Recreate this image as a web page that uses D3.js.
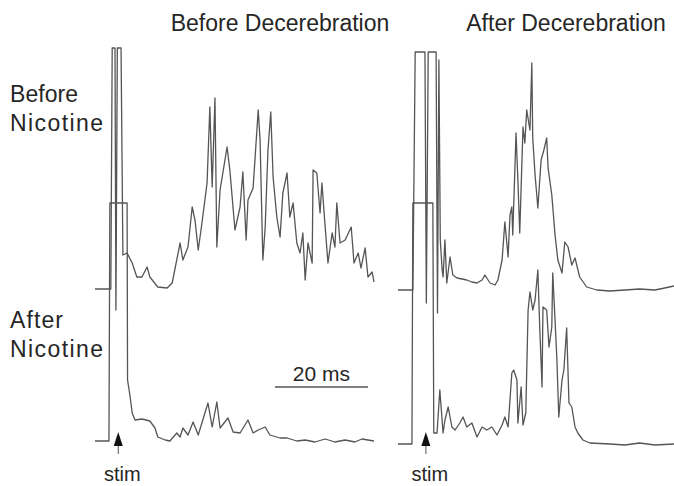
<!DOCTYPE html>
<html>
<head>
<meta charset="utf-8">
<script src="https://cdn.jsdelivr.net/npm/d3@7"></script>
<style>
  body { margin: 0; background: #fff; }
  text { font-family: "Liberation Sans", Arial, sans-serif; fill: #262626; }
</style>
</head>
<body>
<div id="chart"></div>
<script>
// time (ms, stim = 0) and amplitude (arbitrary units)

// Before decerebration, before nicotine
const leftTopT = [-5,-1.6,-1.3,-0.7,-0.5,-0.2,0.6,1.0,1.9,3.0,4.0,5.1,6.2,6.8,8.5,10.5,11.6,13.3,13.9,15.0,15.9,16.5,17.2,18.0,19.1,19.7,20.2,20.8,21.2,21.9,23.4,24.0,25.1,26.2,26.8,27.5,27.9,29.0,30.1,30.5,31.1,31.6,32.2,32.8,33.3,34.1,34.8,35.4,36.3,36.9,37.6,38.4,39.1,39.7,40.2,40.8,41.7,41.9,42.7,43.4,43.8,44.5,45.1,46.0,46.6,47.0,47.7,48.8,50.1,50.7,51.6,52.2,53.1,53.7,54.6,55.0];
const leftTopV = [0,0,241,241,-21,241,241,34,36,26,12,12,22,12,2,1,6,46,29,42,82,69,39,66,106,182,102,191,42,99,142,119,59,82,117,49,89,101,179,149,29,62,139,177,112,72,52,96,116,72,86,46,36,56,9,46,26,119,116,76,106,62,26,56,42,86,46,49,62,26,36,21,41,12,17,7];

// Before decerebration, after nicotine
const leftBotT = [-5,-2.0,-1.8,1.9,2.0,2.5,3.0,3.6,5.1,6.8,7.9,8.5,10.1,11.1,12.6,13.3,13.9,15.0,16.1,17.2,18.7,19.3,20.2,21.2,21.9,23.6,24.7,26.2,27.9,29.0,30.1,31.6,32.6,34.8,36.3,38.4,40.2,42.3,44.5,46.6,48.8,50.9,52.4,55.0];
const leftBotV = [0,0,238,238,61,46,28,21,22,20,13,4,1,0,8,4,13,6,19,6,29,38,14,39,13,23,9,8,21,8,11,14,6,3,3,0,1,-1,2,-1,1,-1,2,0];

// After decerebration, before nicotine
const rightTopT = [-6,-2.8,-2.3,-0.2,0.1,0.5,2.2,2.5,2.8,3.1,3.5,3.7,4.1,4.5,5.2,5.8,6.7,7.8,8.8,9.9,11.0,12.1,12.7,13.8,14.9,15.5,16.4,17.0,17.7,18.1,18.5,18.7,19.4,19.8,20.2,20.9,21.3,21.7,22.4,22.8,23.0,23.5,24.1,24.8,25.4,26.0,26.3,27.1,27.8,28.4,29.3,29.9,30.6,31.4,32.1,33.1,34.6,36.8,39.6,42.8,46.0,49.3,51.4,53.4];
const rightTopV = [0,0,238,238,-13,238,238,-23,230,50,20,13,50,7,33,15,12,11,10,8,7,10,15,7,5,10,30,68,33,75,83,55,157,110,57,163,147,180,160,227,152,115,82,130,140,152,122,95,55,30,17,48,43,25,32,13,3,0,-1,0,1,0,2,4];

// After decerebration, after nicotine
const rightBotT = [-6,-3.0,-2.8,1.5,1.7,2.4,3.0,3.7,4.1,4.8,5.6,6.3,7.3,8.0,8.8,9.9,11.0,12.1,13.1,14.2,15.3,16.4,17.0,17.7,18.5,18.9,19.6,19.8,20.5,20.9,21.5,22.0,22.4,23.0,23.5,24.1,24.5,25.0,25.2,26.0,26.5,27.1,27.3,27.8,28.2,28.6,29.3,29.7,30.3,30.8,31.4,32.1,32.7,33.8,35.3,39.6,42.8,46.0,49.3,53.4];
const rightBotV = [0,0,241,241,11,11,54,11,24,37,17,14,21,27,17,21,7,17,14,17,9,19,27,17,71,74,64,21,57,19,31,134,152,134,144,174,117,57,137,134,97,117,171,124,84,27,64,74,116,41,37,17,11,4,1,0,-1,1,-1,0];

const columnTitles = ["Before Decerebration", "After Decerebration"];
const rowLabels = [["Before", "Nicotine"], ["After", "Nicotine"]];
const scaleBarMs = 20;

const width = 674, height = 486;

const svg = d3.select("#chart").append("svg")
    .attr("width", width)
    .attr("height", height);

svg.append("rect").attr("width", width).attr("height", height).attr("fill", "#fff");

// one x scale per column (same ms -> px ratio)
const xLeft = d3.scaleLinear().domain([-5, 55]).range([95, 374]);
const xRight = d3.scaleLinear().domain([-6, 53.4]).range([398, 674]);

// amplitude scales, one per trace baseline
const amp = base => d3.scaleLinear().domain([0, 250]).range([base, base - 250]);

const traces = [
    {t: leftTopT,  v: leftTopV,  x: xLeft,  y: amp(289)},
    {t: leftBotT,  v: leftBotV,  x: xLeft,  y: amp(441)},
    {t: rightTopT, v: rightTopV, x: xRight, y: amp(290)},
    {t: rightBotT, v: rightBotV, x: xRight, y: amp(444)}
];

traces.forEach(tr => {
    const pts = tr.t.map((t, i) => [t, tr.v[i]]);
    const line = d3.line()
        .x(d => tr.x(d[0]))
        .y(d => tr.y(d[1]));
    svg.append("path")
        .datum(pts)
        .attr("fill", "none")
        .attr("stroke", "#555")
        .attr("stroke-width", 1.3)
        .attr("stroke-linejoin", "round")
        .attr("d", line);
});

// column titles
svg.append("text")
    .attr("x", 280).attr("y", 31)
    .attr("text-anchor", "middle")
    .style("font-size", "23px")
    .text(columnTitles[0]);
svg.append("text")
    .attr("x", 566).attr("y", 31)
    .attr("text-anchor", "middle")
    .style("font-size", "23px")
    .text(columnTitles[1]);

// row labels (scanned lettering is a bit wider than Arial)
const labelWidths = [[68, 93], [53, 93]];
[[102, 131], [328, 357]].forEach((ys, r) => {
    ys.forEach((yy, k) => {
        svg.append("text")
            .attr("x", 10).attr("y", yy)
            .attr("textLength", labelWidths[r][k])
            .attr("lengthAdjust", "spacing")
            .style("font-size", "23px")
            .text(rowLabels[r][k]);
    });
});

// scale bar
const barStart = 33.7;
svg.append("line")
    .attr("x1", xLeft(barStart)).attr("x2", xLeft(barStart + scaleBarMs))
    .attr("y1", 387).attr("y2", 387)
    .attr("stroke", "#555")
    .attr("stroke-width", 1.3);
svg.append("text")
    .attr("x", xLeft(barStart + scaleBarMs / 2)).attr("y", 381)
    .attr("text-anchor", "middle")
    .style("font-size", "21px")
    .text(scaleBarMs + " ms");

// stimulus markers
[xLeft, xRight].forEach(x => {
    const cx = x(0);
    svg.append("path")
        .attr("d", `M${cx},432 L${cx - 4.5},446 L${cx + 4.5},446 Z`)
        .attr("fill", "#111");
    svg.append("line")
        .attr("x1", cx).attr("x2", cx)
        .attr("y1", 446).attr("y2", 454)
        .attr("stroke", "#555").attr("stroke-width", 1);
    svg.append("text")
        .attr("x", cx + 4).attr("y", 481)
        .attr("text-anchor", "middle")
        .style("font-size", "20px")
        .text("stim");
});
</script>
</body>
</html>
